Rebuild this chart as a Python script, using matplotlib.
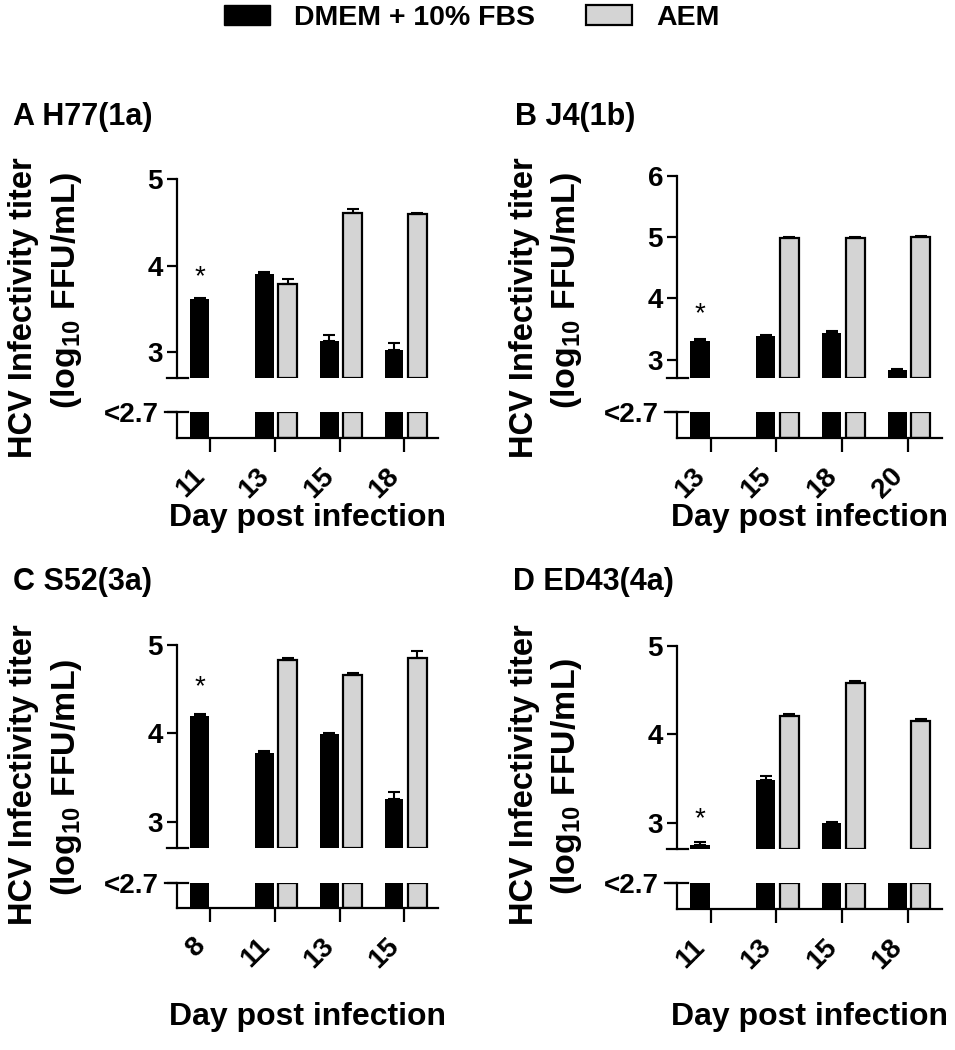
import matplotlib
matplotlib.use("Agg")
import matplotlib.pyplot as plt
import matplotlib.transforms as mtransforms
from matplotlib.patches import Patch
import numpy as np

plt.rcParams['font.family'] = ['Liberation Sans', 'DejaVu Sans']
plt.rcParams['font.weight'] = 'bold'
plt.rcParams['mathtext.fontset'] = 'custom'
plt.rcParams['mathtext.rm'] = 'Liberation Sans:bold'
plt.rcParams['mathtext.it'] = 'Liberation Sans:bold'
plt.rcParams['mathtext.bf'] = 'Liberation Sans:bold'

W, H = 955, 1050
LOD = 2.7  # detection limit, values <= LOD only shown below the break

# panel data (log10 FFU/mL), None = no bar
titles = ['A H77(1a)', 'B J4(1b)', 'C S52(3a)', 'D ED43(4a)']
days_A = ['11', '13', '15', '18']
days_B = ['13', '15', '18', '20']
days_C = ['8', '11', '13', '15']
days_D = ['11', '13', '15', '18']

dmem_A = [3.61, 3.90, 3.13, 3.02]
dmem_A_err = [0.02, 0.03, 0.07, 0.08]
aem_A = [None, 3.79, 4.61, 4.59]
aem_A_err = [0, 0.05, 0.04, 0.02]

dmem_B = [3.31, 3.38, 3.43, 2.83]
dmem_B_err = [0.03, 0.02, 0.03, 0.02]
aem_B = [None, 4.98, 4.99, 5.00]
aem_B_err = [0, 0.03, 0.02, 0.02]

dmem_C = [4.20, 3.78, 3.99, 3.25]
dmem_C_err = [0.02, 0.02, 0.01, 0.08]
aem_C = [None, 4.83, 4.66, 4.85]
aem_C_err = [0, 0.02, 0.02, 0.08]

dmem_D = [2.75, 3.48, 2.99, 2.70]
dmem_D_err = [0.03, 0.05, 0.02, 0]
aem_D = [None, 4.21, 4.58, 4.15]
aem_D_err = [0, 0.02, 0.02, 0.02]

ymax = [5, 6, 5, 5]
yticks = [[3, 4, 5], [3, 4, 5, 6], [3, 4, 5], [3, 4, 5]]
star_y = [3.87, 3.74, 4.52, 3.04]

panels = [
    (days_A, dmem_A, dmem_A_err, aem_A, aem_A_err),
    (days_B, dmem_B, dmem_B_err, aem_B, aem_B_err),
    (days_C, dmem_C, dmem_C_err, aem_C, aem_C_err),
    (days_D, dmem_D, dmem_D_err, aem_D, aem_D_err),
]

# pixel boxes: left, right, upper top, upper bottom, lower top, lower bottom
boxes = [
    (177, 438, 179, 378, 412, 438),
    (677, 942, 176, 378, 412, 438),
    (177, 438, 645, 848, 883, 908),
    (677, 942, 646, 849, 883, 909),
]
title_pos = [(13, 117), (515, 117), (13, 582), (513, 582)]
ylab1_y = [308, 308, 775, 775]
ylab2_y = [290, 290, 777, 776]
xlab_y = [518, 518, 1017, 1017]

GRAY = '#d4d4d4'
LW = 1.6
bw = 0.29
off_b, off_g = -0.16, 0.20


def rect(l, r, t, b):
    return [l / W, 1 - b / H, (r - l) / W, (b - t) / H]


fig = plt.figure(figsize=(W / 100, H / 100), dpi=100)
shift = mtransforms.ScaledTranslation(7 / 100, -3 / 100, fig.dpi_scale_trans)

for i, (days, dm, dm_e, ae, ae_e) in enumerate(panels):
    l, r, ut, ub, lt, lb = boxes[i]
    x = np.arange(len(days))
    up = fig.add_axes(rect(l, r, ut, ub))
    lo = fig.add_axes(rect(l, r, lt, lb))

    # upper part
    for xi, v, e in zip(x, dm, dm_e):
        if v is not None and v > LOD:
            up.bar(xi + off_b, v - LOD, bw, bottom=LOD, color='black')
            up.errorbar(xi + off_b, v, yerr=[[0], [e]], color='black',
                        capsize=4, elinewidth=1.5, capthick=1.5)
    for xi, v, e in zip(x, ae, ae_e):
        if v is not None and v > LOD:
            up.bar(xi + off_g, v - LOD, bw, bottom=LOD, color=GRAY,
                   edgecolor='black', linewidth=LW)
            up.errorbar(xi + off_g, v, yerr=[[0], [e]], color='black',
                        capsize=4, elinewidth=1.5, capthick=1.5)
    up.text(x[0] + off_b, star_y[i], '*', ha='center', va='center',
            fontsize=20, fontweight='normal')
    up.set_ylim(LOD, ymax[i])
    up.set_xlim(-0.51, len(days) - 0.48)
    up.set_yticks(yticks[i])
    up.set_xticks([])
    for s in ['top', 'right', 'bottom']:
        up.spines[s].set_visible(False)
    up.spines['left'].set_linewidth(LW)
    up.tick_params(axis='y', length=7, width=LW, labelsize=20, pad=3)
    # break stub at the bottom of the upper axis
    up.plot([-10 / (r - l), 11 / (r - l)], [0, 0], color='black', lw=LW,
            transform=up.transAxes, clip_on=False)

    # lower part (below detection)
    for xi, v in zip(x, dm):
        if v is not None:
            lo.bar(xi + off_b, 1, bw, color='black')
    for xi, v in zip(x, ae):
        if v is not None:
            lo.bar(xi + off_g, 1, bw, color=GRAY, edgecolor='black',
                   linewidth=LW)
    lo.set_ylim(0, 1)
    lo.set_xlim(-0.51, len(days) - 0.48)
    lo.set_yticks([1])
    lo.set_yticklabels(['<2.7'])
    lo.set_xticks(x)
    lo.set_xticklabels(days, rotation=45, ha='right', va='top')
    for lab in lo.get_xticklabels():
        lab.set_transform(lab.get_transform() + shift)
    for s in ['top', 'right']:
        lo.spines[s].set_visible(False)
    lo.spines['left'].set_linewidth(LW)
    lo.spines['bottom'].set_linewidth(LW)
    lo.tick_params(axis='y', length=7, width=LW, labelsize=20, pad=6)
    lo.tick_params(axis='x', length=10, width=LW, labelsize=20, pad=8)
    lo.plot([-12 / (r - l), 11 / (r - l)], [1, 1], color='black', lw=LW,
            transform=lo.transAxes, clip_on=False)

    # labels
    tx, ty = title_pos[i]
    fig.text(tx / W, 1 - ty / H, titles[i], ha='left', va='center', fontsize=22)
    fig.text((l - 153) / W, 1 - ylab1_y[i] / H, 'HCV Infectivity titer',
             rotation=90, ha='center', va='center', fontsize=23.5)
    fig.text((l - 111) / W, 1 - ylab2_y[i] / H, r'(log$_{10}$ FFU/mL)',
             rotation=90, ha='center', va='center', fontsize=24.5)
    fig.text((l + r) / 2 / W, 1 - xlab_y[i] / H, 'Day post infection',
             ha='center', va='center', fontsize=23)

handles = [Patch(facecolor='black', edgecolor='black', label='DMEM + 10% FBS'),
           Patch(facecolor=GRAY, edgecolor='black', linewidth=LW, label='AEM')]
fig.legend(handles=handles, loc='center', bbox_to_anchor=(472 / W, 1 - 18 / H),
           ncol=2, frameon=False, fontsize=20.5, handlelength=1.6,
           handleheight=0.72, handletextpad=0.85, columnspacing=1.8)

fig.savefig('out.png', dpi=100)
